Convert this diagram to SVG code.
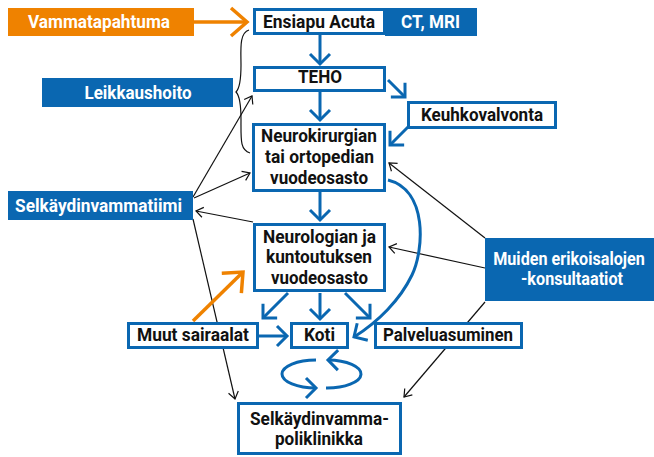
<svg xmlns="http://www.w3.org/2000/svg" width="654" height="457" viewBox="0 0 654 457">
<defs>
<style>
text{font-family:"Liberation Sans Narrow","Roboto","DejaVu Sans Condensed",sans-serif;font-weight:bold;font-size:18.5px;text-anchor:middle;fill:#111}
.w{fill:#fff}
.box{fill:#fff;stroke:#0a67b1;stroke-width:3}
.fb{fill:#0a67b1}
.fo{fill:#ef8200}
.bl{fill:none;stroke:#0a67b1;stroke-width:3;marker-end:url(#ab)}
.or{fill:none;stroke:#ef8200;stroke-width:3.5;marker-end:url(#ao)}
.k{fill:none;stroke:#111;stroke-width:1.2;marker-end:url(#ak)}
.br{fill:none;stroke:#111;stroke-width:1.2}
</style>
<marker id="ab" markerUnits="userSpaceOnUse" viewBox="-20 -20 40 40" markerWidth="40" markerHeight="40" refX="0" refY="0" orient="auto">
<path d="M-10,-10 L0,0 L-10,10" fill="none" stroke="#0a67b1" stroke-width="3"/>
</marker>
<marker id="ao" markerUnits="userSpaceOnUse" viewBox="-25 -25 50 50" markerWidth="50" markerHeight="50" refX="0" refY="0" orient="auto">
<path d="M-16,-14 L0,0 L-16,14" fill="none" stroke="#ef8200" stroke-width="3.5"/>
</marker>
<marker id="ak" markerUnits="userSpaceOnUse" viewBox="-12 -12 24 24" markerWidth="24" markerHeight="24" refX="0" refY="0" orient="auto">
<path d="M-7,-5 L0,0 L-7,5" fill="none" stroke="#111" stroke-width="1.2"/>
</marker>
</defs>
<rect width="654" height="457" fill="#fff"/>
<g id="connectors">
<path class="k" d="M193,197 L252,96"/>
<path class="k" d="M194,198 L250,173"/>
<path class="k" d="M253,222 L196,211"/>
<path class="k" d="M193,219 L235,399"/>
<path class="k" d="M485,238 L389,163"/>
<path class="k" d="M485,268 L389,247"/>
<path class="k" d="M485,302 L404,397"/>
<path class="br" d="M249,30 C239,33 241,50 241,65 C241,82 239,89 236,92 C239,95 241,103 241,120 C241,140 240,150 250,153"/>
<path class="or" d="M194,22 L247,22"/>
<path class="or" d="M193,321 L243,272"/>
<path class="bl" d="M320,35 L320,64"/>
<path class="bl" d="M320,92 L320,120"/>
<path class="bl" d="M388,80 L405,97"/>
<path class="bl" d="M408,127 L390,145"/>
<path class="bl" d="M320,192 L320,220"/>
<path class="bl" d="M288,293 L263,318"/>
<path class="bl" d="M320,293 L320,319"/>
<path class="bl" d="M345,293 L370,318"/>
<path class="bl" d="M259,336 L287,336"/>
<path class="bl" d="M388,180 C428,190 424,250 412,275 C400,300 378,322 354,337"/>
<path class="bl" d="M326,388 A34,14 0 0 0 328,360"/>
<path class="bl" d="M316,360 A34,14 0 0 0 316,388"/>
</g>
<g id="vammatapahtuma"><rect class="fo" x="8" y="8" width="186" height="28"/><text class="w" x="99" y="27.5" textLength="142" lengthAdjust="spacingAndGlyphs">Vammatapahtuma</text></g>
<g id="ensiapu"><rect class="box" x="254.5" y="9.5" width="130" height="24"/><text x="319" y="28" textLength="112" lengthAdjust="spacingAndGlyphs">Ensiapu Acuta</text></g>
<g id="ctmri"><rect class="fb" x="385" y="8" width="92" height="28"/><text class="w" x="430.5" y="27.5" textLength="59" lengthAdjust="spacingAndGlyphs">CT, MRI</text></g>
<g id="teho"><rect class="box" x="254.5" y="67.5" width="130" height="23"/><text x="320" y="83" textLength="44" lengthAdjust="spacingAndGlyphs">TEHO</text></g>
<g id="leikkaushoito"><rect class="fb" x="42" y="78" width="191" height="29"/><text class="w" x="138" y="99" textLength="107" lengthAdjust="spacingAndGlyphs">Leikkaushoito</text></g>
<g id="keuhkovalvonta"><rect class="box" x="408.5" y="102.5" width="147" height="25"/><text x="482" y="121" textLength="122" lengthAdjust="spacingAndGlyphs">Keuhkovalvonta</text></g>
<g id="neurokirurgian"><rect class="box" x="253.5" y="124.5" width="131" height="66"/>
<text x="319" y="142" textLength="116" lengthAdjust="spacingAndGlyphs">Neurokirurgian</text>
<text x="319.5" y="163" textLength="109" lengthAdjust="spacingAndGlyphs">tai ortopedian</text>
<text x="319" y="184" textLength="98" lengthAdjust="spacingAndGlyphs">vuodeosasto</text></g>
<g id="selkaydinvammatiimi"><rect class="fb" x="8" y="191" width="185" height="29"/><text class="w" x="98.5" y="211.5" textLength="167" lengthAdjust="spacingAndGlyphs">Selkäydinvammatiimi</text></g>
<g id="neurologian"><rect class="box" x="254.5" y="224.5" width="130" height="66"/>
<text x="319.5" y="242.5" textLength="113" lengthAdjust="spacingAndGlyphs">Neurologian ja</text>
<text x="319" y="263" textLength="106" lengthAdjust="spacingAndGlyphs">kuntoutuksen</text>
<text x="319.5" y="284" textLength="97" lengthAdjust="spacingAndGlyphs">vuodeosasto</text></g>
<g id="muiden"><rect class="fb" x="485" y="238" width="169" height="63"/>
<text class="w" transform="translate(569,265) scale(0.82,1)" x="0" y="0" textLength="185" lengthAdjust="spacingAndGlyphs">Muiden erikoisalojen</text>
<text class="w" x="572" y="285" textLength="102" lengthAdjust="spacingAndGlyphs">-konsultaatiot</text></g>
<g id="muut"><rect class="box" x="128.5" y="323.5" width="129" height="24"/><text x="193" y="341" textLength="112" lengthAdjust="spacingAndGlyphs">Muut sairaalat</text></g>
<g id="koti"><rect class="box" x="291.5" y="323.5" width="56" height="24"/><text x="319.5" y="341" textLength="31" lengthAdjust="spacingAndGlyphs">Koti</text></g>
<g id="palveluasuminen"><rect class="box" x="375.5" y="323.5" width="146" height="24"/><text x="448" y="341" textLength="130" lengthAdjust="spacingAndGlyphs">Palveluasuminen</text></g>
<g id="poliklinikka"><rect class="box" x="238.5" y="403.5" width="162" height="50"/>
<text x="319.5" y="425" textLength="139" lengthAdjust="spacingAndGlyphs">Selkäydinvamma-</text>
<text x="319" y="445" textLength="88" lengthAdjust="spacingAndGlyphs">poliklinikka</text></g>
</svg>
